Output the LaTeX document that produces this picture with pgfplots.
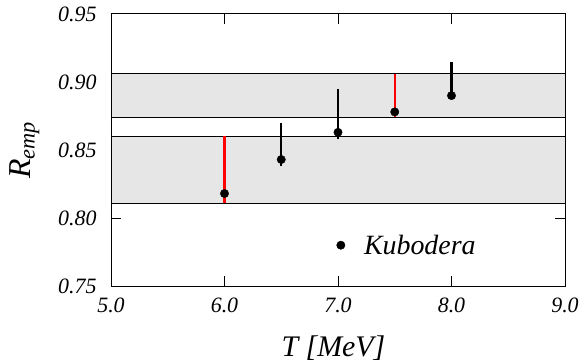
\documentclass[border=0pt]{standalone}
\usepackage{fontspec}
\setmainfont{Liberation Serif}
\usepackage{pgfplots}
\pgfplotsset{compat=1.18}
\definecolor{bandgray}{HTML}{E6E6E6}
\begin{document}
\begin{tikzpicture}
\path[use as bounding box] (-111bp,-78bp) rectangle (472bp,286bp);
\begin{axis}[
  scale only axis,
  width=454bp, height=272bp,
  xmin=5, xmax=9, ymin=0.75, ymax=0.95,
  xtick={5,6,7,8,9},
  xticklabels={\textit{5.0},\textit{6.0},\textit{7.0},\textit{8.0},\textit{9.0}},
  ytick={0.75,0.80,0.85,0.90,0.95},
  yticklabels={\textit{0.75},\textit{0.80},\textit{0.85},\textit{0.90},\textit{0.95}},
  tick align=inside,
  major tick length=10bp,
  axis line style={line width=1pt},
  every tick/.style={black, line width=1pt},
  xticklabel shift=8.5bp,
  yticklabel shift=11bp,
  xticklabel style={font=\fontsize{22}{26}\selectfont},
  yticklabel style={font=\fontsize{22}{26}\selectfont},
  xlabel={\itshape T [MeV]},
  ylabel={\itshape R\textsubscript{emp}},
  xlabel style={font=\fontsize{30}{36}\selectfont, at={(axis description cs:0.49,-0.228)}, anchor=center},
  ylabel style={font=\fontsize{32}{38}\selectfont, at={(axis description cs:-0.19,0.5)}, anchor=center},
  legend style={draw=none, fill=none, at={(axis cs:6.96,0.780)}, anchor=west, column sep=17bp, font=\fontsize{28}{32}\selectfont\itshape},
  legend cell align=left,
  clip=false,
]
% bands
\addplot[fill=bandgray, draw=black, line width=0.9pt, forget plot] coordinates {(5,0.811) (9,0.811) (9,0.860) (5,0.860) (5,0.811)};
\addplot[fill=bandgray, draw=black, line width=0.9pt, forget plot] coordinates {(5,0.874) (9,0.874) (9,0.906) (5,0.906) (5,0.874)};
% error bars
\addplot[red, line width=2.2pt, forget plot] coordinates {(6.0,0.811) (6.0,0.860)};
\addplot[black, line width=2.2pt, forget plot] coordinates {(6.5,0.838) (6.5,0.870)};
\addplot[black, line width=2.2pt, forget plot] coordinates {(7.0,0.858) (7.0,0.895)};
\addplot[red, line width=2.2pt, forget plot] coordinates {(7.5,0.874) (7.5,0.906)};
\addplot[black, line width=2.2pt, forget plot] coordinates {(8.0,0.888) (8.0,0.915)};
% points
\addplot[only marks, mark=*, mark size=4.2bp, black] coordinates {
  (6.0,0.818) (6.5,0.843) (7.0,0.863) (7.5,0.878) (8.0,0.890)};
\addlegendentry{Kubodera}
\end{axis}
\end{tikzpicture}
\end{document}
